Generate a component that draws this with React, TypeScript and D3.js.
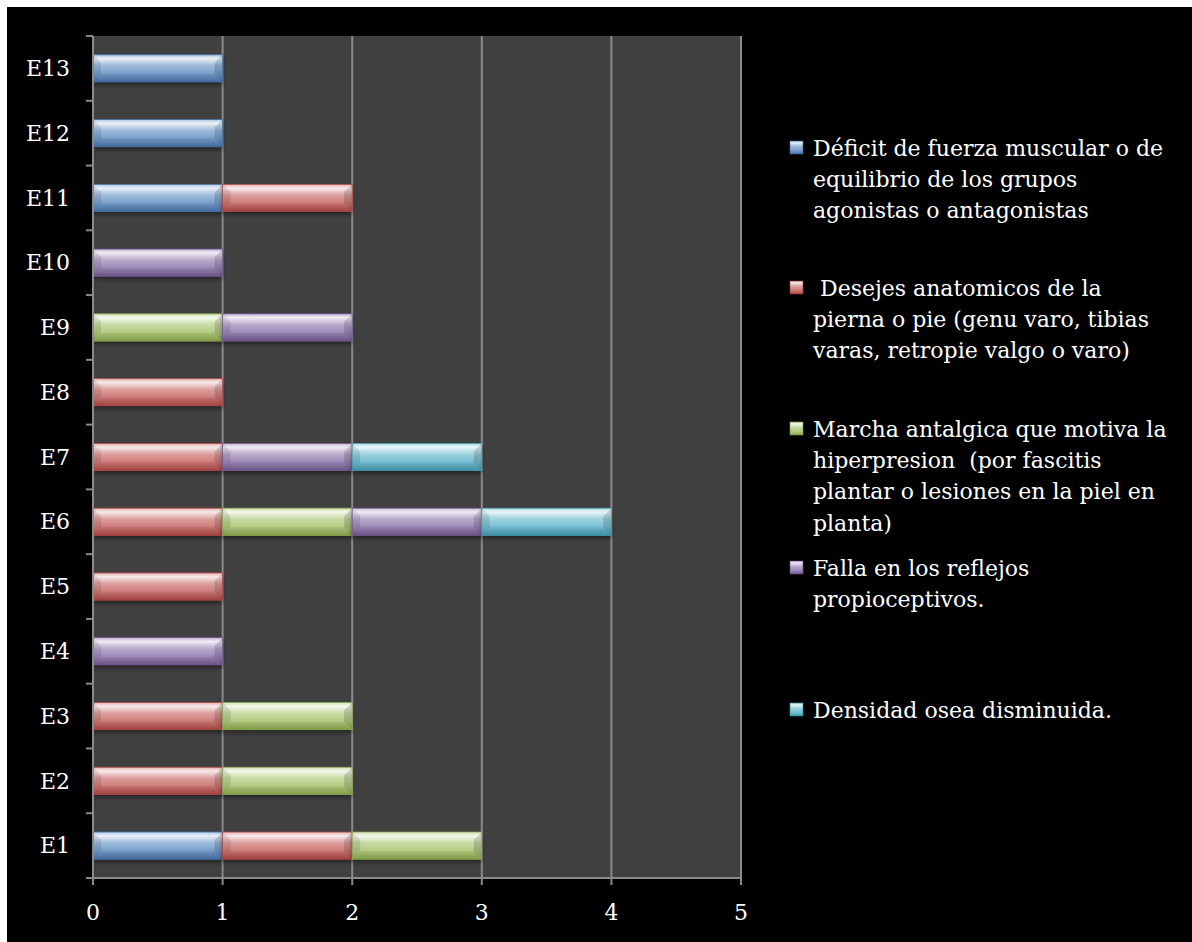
import React from "react";
import * as d3 from "d3";

const categories = ["E1", "E2", "E3", "E4", "E5", "E6", "E7", "E8", "E9", "E10", "E11", "E12", "E13"];
const legendLines = [
  ["Déficit de fuerza muscular o de", "equilibrio de los grupos", "agonistas o antagonistas"],
  ["\u00a0Desejes anatomicos de la", "pierna o pie (genu varo, tibias", "varas, retropie valgo o varo)"],
  ["Marcha antalgica que motiva la", "hiperpresion\u00a0 (por fascitis", "plantar o lesiones en la piel en", "planta)"],
  ["Falla en los reflejos", "propioceptivos."],
  ["Densidad osea disminuida."],
];
const deficit = [1, 0, 0, 0, 0, 0, 0, 0, 0, 0, 1, 1, 1];
const desejes = [1, 1, 1, 0, 1, 1, 1, 1, 0, 0, 1, 0, 0];
const marcha = [1, 1, 1, 0, 0, 1, 0, 0, 1, 0, 0, 0, 0];
const falla = [0, 0, 0, 1, 0, 1, 1, 0, 1, 1, 0, 0, 0];
const densidad = [0, 0, 0, 0, 0, 1, 1, 0, 0, 0, 0, 0, 0];
const xTicks = [0, 1, 2, 3, 4, 5];
const colors = ["#4F81BD", "#C0504D", "#9BBB59", "#8064A2", "#4BACC6"];
const legendY = [148, 288, 429, 568, 710];

const seriesValues = [deficit, desejes, marcha, falla, densidad];

export default function App() {
  const W = 1192, H = 942;
  const left = 93, right = 741, top = 36, bottom = 878;
  const x = d3.scaleLinear().domain([0, 5]).range([left, right]);
  const y = d3.scaleBand().domain([...categories].reverse()).range([top, bottom]).paddingInner(0.58).paddingOuter(0.29);
  const band = (bottom - top) / categories.length;

  const stackData = categories.map((c, i) => {
    const o: any = { cat: c };
    seriesValues.forEach((s, k) => (o["s" + k] = s[i]));
    return o;
  });
  const stack = d3.stack().keys(seriesValues.map((_, k) => "s" + k));
  const layers = stack(stackData);

  const font = "'DejaVu Serif', serif";
  const grid = "#8a8a8a";

  const grads = colors.map((c, k) => {
    const light = d3.interpolateRgb(c, "#ffffff");
    const dark = d3.interpolateRgb(c, "#000000");
    return (
      <linearGradient key={k} id={"g" + k} x1="0" y1="0" x2="0" y2="1">
        <stop offset="0%" stopColor={light(0.55)} />
        <stop offset="14%" stopColor={light(0.88)} />
        <stop offset="40%" stopColor={light(0.45)} />
        <stop offset="75%" stopColor={light(0.2)} />
        <stop offset="100%" stopColor={dark(0.1)} />
      </linearGradient>
    );
  });

  const bh = y.bandwidth();
  const bev = Math.min(8, bh / 3);

  return (
    <svg width={W} height={H} style={{ position: "absolute", left: 0, top: 0, display: "block" }}>
      <defs>
        {grads}
        <filter id="sh" x="-5%" y="-20%" width="110%" height="160%">
          <feDropShadow dx="0" dy="3" stdDeviation="2" floodColor="#000" floodOpacity="0.45" />
        </filter>
      </defs>
      <rect x={0} y={0} width={W} height={H} fill="#ffffff" />
      <rect x={7} y={7} width={W - 7} height={H - 7} fill="#000000" />
      <rect x={left} y={top} width={right - left} height={bottom - top} fill="#404040" />
      {xTicks.slice(1).map((t) => (
        <line key={t} x1={x(t)} x2={x(t)} y1={top} y2={bottom} stroke={grid} strokeWidth={2} />
      ))}
      {layers.map((layer, k) => (
        <g key={k}>
          {layer.map((d: any, i) => {
            if (d[1] - d[0] <= 0) return null;
            const x0 = x(d[0]), x1 = x(d[1]);
            const y0 = y(categories[i])!, y1 = y0 + bh;
            return (
              <g key={i}>
                <rect x={x0} y={y0} width={x1 - x0} height={bh} fill={`url(#g${k})`} filter="url(#sh)" />
                <polygon points={`${x0},${y0} ${x0 + bev},${y0 + bev} ${x0 + bev},${y1 - bev} ${x0},${y1}`} fill="#000" opacity={0.1} />
                <polygon points={`${x1},${y0} ${x1 - bev},${y0 + bev} ${x1 - bev},${y1 - bev} ${x1},${y1}`} fill="#000" opacity={0.15} />
                <polygon points={`${x0},${y1} ${x0 + bev},${y1 - bev} ${x1 - bev},${y1 - bev} ${x1},${y1}`} fill="#000" opacity={0.08} />
                <rect x={x0} y={y0} width={x1 - x0} height={bh} fill="none" stroke={d3.interpolateRgb(colors[k], "#000")(0.1)} strokeWidth={0.8} />
              </g>
            );
          })}
        </g>
      ))}
      <line x1={left} x2={left} y1={top} y2={bottom} stroke={grid} strokeWidth={2} />
      <line x1={left} x2={right} y1={bottom} y2={bottom} stroke={grid} strokeWidth={2} />
      {d3.range(categories.length + 1).map((i) => (
        <line key={i} x1={left - 7} x2={left} y1={top + i * band} y2={top + i * band} stroke={grid} strokeWidth={2} />
      ))}
      {xTicks.map((t) => (
        <line key={t} x1={x(t)} x2={x(t)} y1={bottom} y2={bottom + 7} stroke={grid} strokeWidth={2} />
      ))}
      {categories.map((c) => (
        <text key={c} x={70} y={y(c)! + bh / 2} dy="0.35em" textAnchor="end" fill="#fff" fontFamily={font} fontSize={22}>
          {c}
        </text>
      ))}
      {xTicks.map((t) => (
        <text key={t} x={x(t)} y={912} dy="0.35em" textAnchor="middle" fill="#fff" fontFamily={font} fontSize={22}>
          {t}
        </text>
      ))}
      {legendLines.map((lines, k) => (
        <g key={k}>
          <rect x={790} y={legendY[k] - 7} width={13} height={13} fill={`url(#g${k})`} stroke={d3.interpolateRgb(colors[k], "#000")(0.2)} strokeWidth={0.6} />
          {lines.map((ln, j) => (
            <text key={j} x={813} y={legendY[k] + j * 31.3} dy="0.35em" fill="#fff" fontFamily={font} fontSize={22}>
              {ln}
            </text>
          ))}
        </g>
      ))}
    </svg>
  );
}
